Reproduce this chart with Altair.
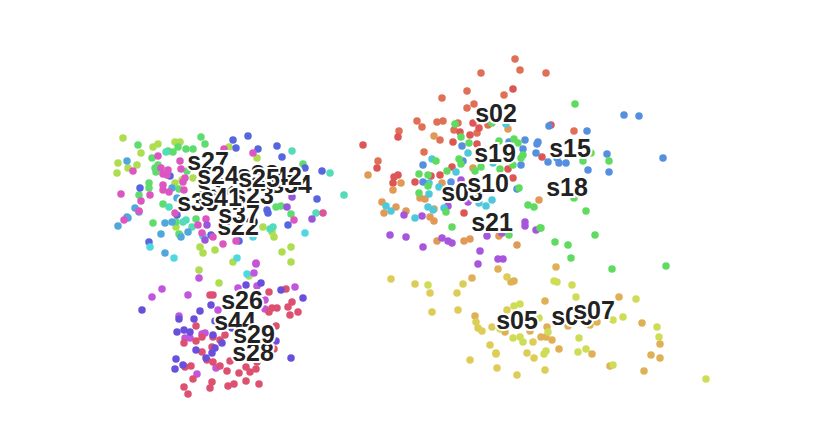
import altair as alt
import pandas as pd

yellowgreen = [(123,138),(118,163),(117,173),(128,168),(137,165),(141,153),(153,147),(158,144),(175,142),(180,142),(175,183),(182,180),(193,178),(257,158),(229,147),(176,227),(180,235),(263,227),(272,232),(274,237),(200,247),(203,253),(215,250),(233,262),(282,252),(291,247),(291,262),(199,270),(219,283),(249,276)]
green_l = [(138,145),(152,158),(158,165),(155,168),(156,172),(168,151),(173,152),(178,147),(186,149),(193,149),(201,137),(205,144),(187,171),(149,183),(149,188),(139,195),(163,204),(153,223),(179,189),(196,219),(176,222),(179,234),(276,207),(281,206),(291,214),(303,164)]
teal = [(166,152),(292,151),(330,173),(344,195),(316,213),(270,229),(273,227),(169,207),(186,220),(183,222),(192,227)]
skyblue = [(127,161),(118,226),(128,218),(127,217),(135,208),(139,212),(165,223),(161,234),(165,253),(172,222),(188,232),(181,237),(172,188),(177,198)]
blue_l = [(233,140),(248,136),(236,148),(258,149),(277,146),(282,157),(305,168),(322,171),(317,199),(288,225),(140,188),(170,176),(149,242),(177,215),(267,210),(268,213),(211,235),(239,241)]
cyan_l = [(150,247),(174,258),(237,258),(305,233),(253,237),(203,236),(247,274)]
magenta = [(133,171),(158,156),(161,168),(168,170),(163,174),(167,175),(180,161),(181,169),(185,178),(183,182),(163,185),(163,190),(169,192),(184,190),(121,194),(150,195),(141,201),(139,211),(124,220),(175,213),(206,219),(198,225),(213,237),(202,233),(223,244),(236,241),(253,153),(224,149),(256,263),(294,220)]
pink_l = [(323,213)]
violet_l = [(312,219),(287,207),(292,197),(207,225),(205,240)]
purple_b = [(256,264),(254,273),(199,278),(162,289),(152,297),(188,295),(179,316),(218,310),(238,288),(257,286),(265,300),(265,309),(295,287),(205,333),(185,338),(190,338),(197,374),(216,368),(202,334)]
red_b = [(210,295),(213,295),(269,292),(286,289),(292,302),(288,307),(298,312),(290,315),(272,308),(277,308),(269,312),(196,326),(202,337),(196,341),(184,343),(213,337),(225,335),(220,340),(212,347),(276,326),(274,349),(202,352),(207,360),(213,362),(230,361),(220,366),(191,366),(185,367),(227,371),(246,367),(250,372),(256,369),(239,373),(257,362),(193,379),(212,382),(210,388),(228,386),(234,384),(246,381),(259,384),(184,387),(188,394)]
violet_b = [(142,310),(179,319),(194,319),(200,311),(211,305),(246,285),(261,283),(281,290),(303,298),(184,330),(177,332),(190,332),(213,335),(196,350),(215,348),(212,353),(206,358),(222,343),(176,359),(183,365),(175,369),(291,358),(276,341),(215,321),(232,328)]
orangered = [(515,59),(520,70),(546,73),(481,73),(442,98),(467,91),(504,95),(474,104),(467,108),(417,121),(422,127),(437,122),(443,121),(399,131),(440,140),(424,152),(378,161),(454,130),(458,123),(477,133),(488,125),(574,131)]
red_r = [(513,89),(473,123),(479,128),(470,135),(460,132),(453,142),(398,137),(363,145),(377,168),(398,175),(394,177),(393,183),(415,182),(431,176),(440,175),(452,167),(542,157),(551,125),(513,178),(508,169),(477,144),(464,213)]
orange = [(368,175),(401,183),(393,190),(382,202),(396,207),(384,213),(406,211),(420,198),(425,199),(434,209),(430,217),(434,221),(437,241),(464,241),(470,239),(499,236),(517,245),(539,200),(508,129),(434,136),(473,168),(442,183)]
amber = [(472,278),(498,269),(556,267),(511,282),(514,281),(545,301),(619,297),(475,316),(505,332),(530,331),(547,327),(568,326),(590,325),(597,322),(642,323),(541,337),(546,337),(552,340),(559,349),(592,354),(660,344),(651,355),(660,358),(610,366),(644,371)]
yellow = [(391,279),(415,284),(430,293),(463,284),(457,293),(432,312),(458,310),(507,277),(476,322),(478,328),(482,331),(492,327),(507,310),(490,345),(496,353),(496,354),(470,360),(497,368),(517,375),(545,370),(527,353),(534,358),(533,342)]
lime = [(428,285),(554,281),(557,282),(572,285),(576,297),(636,299),(514,306),(520,304),(539,318),(613,320),(623,317),(548,332),(513,338),(520,337),(523,342),(579,338),(546,351),(544,354),(578,352),(586,349),(657,327),(659,337),(613,365),(706,379),(500,329)]
green_r = [(455,124),(461,137),(469,143),(436,161),(459,159),(461,164),(447,171),(419,174),(428,175),(475,171),(481,167),(499,141),(514,139),(518,143),(521,158),(523,155),(513,165),(500,169),(492,123),(575,104),(583,161),(609,161),(591,153),(574,198),(586,211),(534,207),(540,228),(555,242),(568,245),(595,235),(571,258),(612,269),(666,266),(419,193),(428,186),(446,212),(452,227),(519,188),(528,205),(509,235),(541,228)]
blue_r = [(462,146),(423,165),(463,161),(525,140),(523,149),(538,142),(537,144),(536,153),(549,126),(548,162),(521,165),(509,142),(624,115),(639,116),(587,131),(559,163),(566,163),(557,158),(607,154),(663,158),(588,170),(609,172),(423,182),(451,182),(517,189)]
cyan_r = [(386,206),(391,211),(415,218),(428,207),(433,210),(429,194),(429,183),(439,187),(444,208),(479,203),(486,206),(492,200),(475,198),(456,172),(432,159),(468,153),(493,163),(506,124)]
violet_r = [(448,206),(404,215),(422,216),(390,235),(406,237),(423,247),(442,238),(448,241),(452,243),(480,251),(478,264),(498,259),(503,259),(487,236),(502,233),(525,222),(525,226),(536,230),(461,180),(468,202)]

series = [
    (yellowgreen, "#aedd50"), (green_l, "#5fdc6e"), (teal, "#52dcb8"), (skyblue, "#4fa8dc"),
    (blue_l, "#5566e0"), (cyan_l, "#4fd8e0"), (magenta, "#dd55c0"), (pink_l, "#dd5599"),
    (violet_l, "#9a55dd"), (purple_b, "#c255dd"), (red_b, "#dd5070"), (violet_b, "#6a4fdc"),
    (orangered, "#e07055"), (red_r, "#dd5555"), (orange, "#e09a55"), (amber, "#dfb055"),
    (yellow, "#ddcc55"), (lime, "#cfdc55"), (violet_r, "#a855dd"), (cyan_r, "#50c8dc"),
    (blue_r, "#5590e0"), (green_r, "#5fdc5f"),
]

label_names = ["s33","s54","s42","s32","s23","s39","s27","s24","s25","s22","s37","s41",
               "s44","s26","s28","s29","s02","s19","s15","s03","s10","s18","s21","s05","s06","s07"]
label_pos = [(258,174),(291,184),(281,176),(218,186),(253,195),(198,202),(208,161),(218,175),(259,178),(238,226),(239,214),(221,197),
             (235,321),(242,300),(253,352),(254,334),(496,113),(495,153),(570,148),(462,192),(488,183),(567,187),(492,222),(517,320),(572,316),(594,310)]

xs = alt.Scale(domain=[8, 822])
ys = alt.Scale(domain=[437, 8])
X = alt.X("x:Q", scale=xs, axis=None)
Y = alt.Y("y:Q", scale=ys, axis=None)

rows = []
for i, (pts, col) in enumerate(series):
    rows += [{"x": p[0], "y": p[1], "c": col, "o": i} for p in pts]
points = alt.Chart(pd.DataFrame(rows)).mark_circle(size=56, opacity=1).encode(
    x=X, y=Y, color=alt.Color("c:N", scale=None), order="o:Q")

layers = [points]
for n, p in zip(label_names, label_pos):
    d = pd.DataFrame([{"x": p[0], "y": p[1], "t": n}])
    kw = dict(font="Liberation Sans", fontSize=25, fontWeight="bold", align="center", baseline="middle", dy=1)
    layers.append(alt.Chart(d).mark_text(stroke="white", strokeWidth=4, fill="white", **kw).encode(x=X, y=Y, text="t:N"))
    layers.append(alt.Chart(d).mark_text(fill="#222222", **kw).encode(x=X, y=Y, text="t:N"))

chart = alt.layer(*layers).properties(
    width=814, height=429, padding=0, autosize=alt.AutoSizeParams(type="none")
).configure_view(stroke=None)
chart.save("out.html", embed_options={"renderer": "svg", "actions": False})
